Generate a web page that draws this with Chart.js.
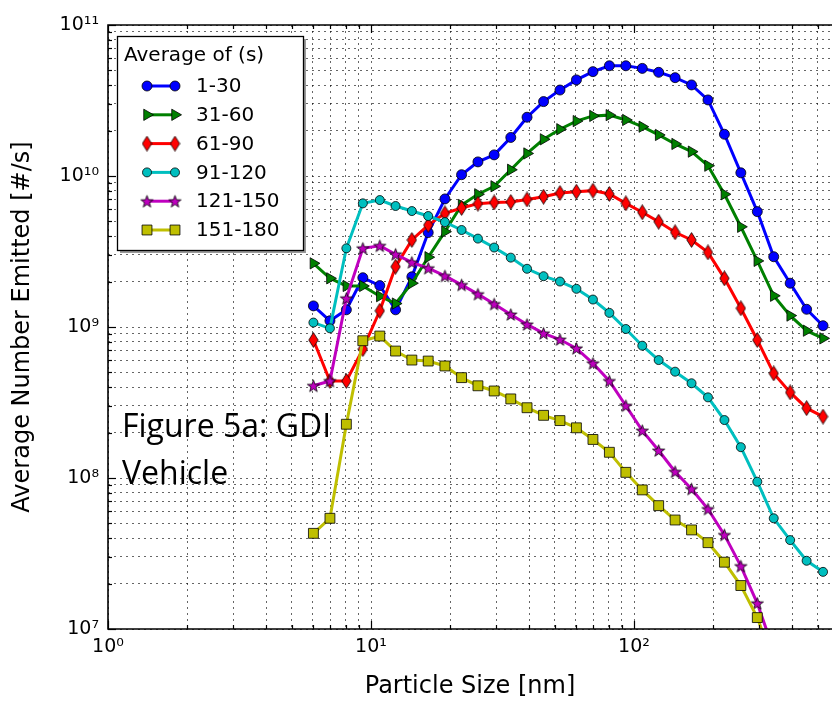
<!DOCTYPE html>
<html>
<head>
<meta charset="utf-8">
<script src="https://cdn.jsdelivr.net/npm/chart.js@4.4.1/dist/chart.umd.min.js"></script>
<style>
  html, body { margin: 0; padding: 0; background: #fff; }
</style>
</head>
<body>
<canvas id="sizeChart" width="832" height="704"></canvas>
<script>
// particle size channels [nm]
const sizes = [6.04, 6.98, 8.06, 9.31, 10.8, 12.4, 14.3, 16.5, 19.1, 22.1, 25.5, 29.4, 34.0, 39.2, 45.3, 52.3,
  60.4, 69.8, 80.6, 93.1, 107.5, 124.1, 143.3, 165.5, 191.1, 220.7, 254.8, 294.3, 339.8, 392.4, 453.2, 523.3];

const seriesLabels = ['1-30', '31-60', '61-90', '91-120', '121-150', '151-180'];

// average number emitted [#/s] per time window
const avg1to30 = [1.38e9, 1.10e9, 1.30e9, 2.12e9, 1.88e9, 1.30e9, 2.15e9, 4.22e9, 7.05e9, 1.02e10, 1.24e10, 1.38e10,
  1.80e10, 2.45e10, 3.11e10, 3.71e10, 4.33e10, 4.91e10, 5.37e10, 5.37e10, 5.16e10, 4.86e10, 4.48e10, 4.01e10,
  3.19e10, 1.89e10, 1.05e10, 5.81e9, 2.92e9, 1.95e9, 1.31e9, 1.02e9];
const avg31to60 = [2.64e9, 2.10e9, 1.87e9, 1.87e9, 1.60e9, 1.43e9, 1.95e9, 2.90e9, 4.28e9, 6.43e9, 7.57e9, 8.55e9,
  1.10e10, 1.41e10, 1.75e10, 2.04e10, 2.31e10, 2.50e10, 2.53e10, 2.35e10, 2.12e10, 1.87e10, 1.63e10, 1.45e10,
  1.17e10, 7.57e9, 4.61e9, 2.74e9, 1.61e9, 1.19e9, 9.45e8, 8.41e8];
const avg61to90 = [8.20e8, 4.39e8, 4.39e8, 7.14e8, 1.28e9, 2.51e9, 3.77e9, 4.73e9, 5.66e9, 6.14e9, 6.56e9, 6.68e9,
  6.73e9, 6.99e9, 7.29e9, 7.71e9, 7.87e9, 8.00e9, 7.60e9, 6.59e9, 5.75e9, 4.98e9, 4.24e9, 3.77e9,
  3.12e9, 2.10e9, 1.33e9, 8.20e8, 4.93e8, 3.69e8, 2.90e8, 2.55e8];
const avg91to120 = [1.07e9, 9.80e8, 3.32e9, 6.59e9, 6.93e9, 6.33e9, 5.86e9, 5.43e9, 4.95e9, 4.39e9, 3.85e9, 3.36e9,
  2.88e9, 2.43e9, 2.17e9, 2.00e9, 1.79e9, 1.52e9, 1.24e9, 9.70e8, 7.52e8, 6.04e8, 5.06e8, 4.24e8,
  3.42e8, 2.42e8, 1.60e8, 9.45e7, 5.41e7, 3.88e7, 2.83e7, 2.39e7];
const avg121to150 = [4.08e8, 4.39e8, 1.55e9, 3.32e9, 3.45e9, 3.03e9, 2.68e9, 2.45e9, 2.18e9, 1.90e9, 1.65e9, 1.42e9,
  1.21e9, 1.04e9, 9.08e8, 8.26e8, 7.22e8, 5.75e8, 4.39e8, 3.01e8, 2.06e8, 1.52e8, 1.10e8, 8.46e7,
  6.23e7, 4.20e7, 2.61e7, 1.48e7, 7.2e6, null, null, null];
const avg151to180 = [4.30e7, 5.41e7, 2.27e8, 8.11e8, 8.71e8, 6.93e8, 6.04e8, 5.95e8, 5.52e8, 4.62e8, 4.08e8, 3.77e8,
  3.34e8, 2.92e8, 2.60e8, 2.40e8, 2.15e8, 1.80e8, 1.48e8, 1.09e8, 8.34e7, 6.56e7, 5.27e7, 4.53e7,
  3.73e7, 2.77e7, 1.94e7, 1.19e7, 6.0e6, null, null, null];

// axis ticks (decades and the 1..9 steps inside them)
const xDecades = [1, 10, 100];
const yDecades = [1e7, 1e8, 1e9, 1e10];
const tickSteps = [1, 2, 3, 4, 5, 6, 7, 8, 9];
const xTickValues = [];
xDecades.forEach((d) => tickSteps.forEach((s) => xTickValues.push(s * d)));
const yTickValues = [];
yDecades.forEach((d) => tickSteps.forEach((s) => yTickValues.push(s * d)));
yTickValues.push(1e11);

const sup = { '0': '\u2070', '1': '\u00b9', '2': '\u00b2', '3': '\u00b3', '4': '\u2074', '5': '\u2075', '6': '\u2076', '7': '\u2077', '8': '\u2078', '9': '\u2079' };
function decadeExp(v) {
  const e = Math.round(Math.log10(v));
  return Math.abs(v / Math.pow(10, e) - 1) < 1e-6 ? e : null;
}
function powerLabel(v) {
  const e = decadeExp(v);
  if (e === null) return '';
  return '10' + String(e).split('').map((c) => sup[c]).join('');
}

// custom marker shapes (matplotlib thin diamond and filled star)
function markerCanvas(w, h, fill, pathFn) {
  const c = document.createElement('canvas');
  c.width = w;
  c.height = h;
  const g = c.getContext('2d');
  g.fillStyle = fill;
  g.strokeStyle = '#000';
  g.lineWidth = 0.8;
  g.beginPath();
  pathFn(g, w / 2, h / 2);
  g.closePath();
  g.fill();
  g.stroke();
  return c;
}
const thinDiamond = markerCanvas(11, 16, '#ff0000', (g, cx, cy) => {
  g.moveTo(cx, 0.6);
  g.lineTo(10.2, cy);
  g.lineTo(cx, 15.4);
  g.lineTo(0.8, cy);
});
const starMark = markerCanvas(15, 15, '#bf00bf', (g, cx, cy) => {
  for (let i = 0; i < 10; i++) {
    const r = i % 2 === 0 ? 6.4 : 2.6;
    const a = -Math.PI / 2 + i * Math.PI / 5;
    const px = cx + r * Math.cos(a);
    const py = cy + 0.6 + r * Math.sin(a);
    if (i === 0) g.moveTo(px, py); else g.lineTo(px, py);
  }
});

const colors = ['#0000ff', '#008000', '#ff0000', '#00bfbf', '#bf00bf', '#bfbf00'];
const styles = [
  { pointStyle: 'circle', radius: 5, rotation: 0 },
  { pointStyle: 'triangle', radius: 6.5, rotation: 90 },
  { pointStyle: thinDiamond, radius: 6, rotation: 0 },
  { pointStyle: 'circle', radius: 4.5, rotation: 0 },
  { pointStyle: starMark, radius: 6, rotation: 0 },
  { pointStyle: 'rect', radius: 7, rotation: 0 }
];
const allSeries = [avg1to30, avg31to60, avg61to90, avg91to120, avg121to150, avg151to180];

const datasets = allSeries.map((values, i) => ({
  label: seriesLabels[i],
  data: values.map((v, j) => ({ x: sizes[j], y: v })),
  borderColor: colors[i],
  backgroundColor: colors[i],
  borderWidth: 3,
  pointStyle: styles[i].pointStyle,
  pointRadius: styles[i].radius,
  pointRotation: styles[i].rotation,
  pointBackgroundColor: colors[i],
  pointBorderColor: '#000',
  pointBorderWidth: 0.8,
  tension: 0,
  spanGaps: false,
  order: 5 - i
}));

// frame, inward ticks, legend box and the figure note
const decorations = {
  id: 'decorations',
  afterDatasetsDraw(chart) {
    const { ctx, chartArea: a, scales } = chart;
    ctx.save();
    ctx.setLineDash([]);
    ctx.strokeStyle = '#000';
    ctx.lineWidth = 1.2;
    scales.x.ticks.forEach((t) => {
      const px = Math.round(scales.x.getPixelForValue(t.value)) + 0.5;
      const len = decadeExp(t.value) !== null ? 8 : 4;
      ctx.beginPath();
      ctx.moveTo(px, a.bottom); ctx.lineTo(px, a.bottom - len);
      ctx.moveTo(px, a.top); ctx.lineTo(px, a.top + len);
      ctx.stroke();
    });
    scales.y.ticks.forEach((t) => {
      const py = Math.round(scales.y.getPixelForValue(t.value)) + 0.5;
      const len = decadeExp(t.value) !== null ? 8 : 4;
      ctx.beginPath();
      ctx.moveTo(a.left, py); ctx.lineTo(a.left + len, py);
      ctx.stroke();
    });
    ctx.lineWidth = 1.6;
    ctx.beginPath();
    ctx.moveTo(a.right + 2, a.top);
    ctx.lineTo(a.left, a.top);
    ctx.lineTo(a.left, a.bottom);
    ctx.lineTo(a.right + 2, a.bottom);
    ctx.stroke();

    // legend
    const bx = 117, by = 36, bw = 186, bh = 214;
    ctx.fillStyle = '#9a9a9a';
    ctx.fillRect(bx + 3, by + 3, bw, bh);
    ctx.fillStyle = '#fff';
    ctx.fillRect(bx, by, bw, bh);
    ctx.strokeStyle = '#000';
    ctx.lineWidth = 1.3;
    ctx.strokeRect(bx + 0.5, by + 0.5, bw, bh);
    ctx.fillStyle = '#000';
    ctx.font = '20px "DejaVu Sans"';
    ctx.textBaseline = 'middle';
    ctx.textAlign = 'left';
    ctx.fillText('Average of (s)', 124, 56);
    chart.data.datasets.forEach((ds, i) => {
      const y = 86 + i * 28.8;
      ctx.strokeStyle = ds.borderColor;
      ctx.lineWidth = 3;
      ctx.beginPath();
      ctx.moveTo(147, y);
      ctx.lineTo(175, y);
      ctx.stroke();
      ctx.fillStyle = ds.borderColor;
      ctx.strokeStyle = '#000';
      ctx.lineWidth = 0.8;
      [147, 175].forEach((x) => {
        Chart.helpers.drawPoint(ctx, { pointStyle: styles[i].pointStyle, radius: styles[i].radius, rotation: styles[i].rotation, borderWidth: 0.8 }, x, y);
      });
      ctx.fillStyle = '#000';
      ctx.fillText(ds.label, 196, y + 1);
    });

    // figure note
    ctx.font = '32px "Open Sans"';
    ctx.textBaseline = 'alphabetic';
    ctx.fillStyle = '#000';
    ctx.fillText('Figure 5a: GDI', 122, 437);
    ctx.fillText('Vehicle', 122, 484);
    ctx.restore();
  }
};

const ctxSize = document.getElementById('sizeChart').getContext('2d');
new Chart(ctxSize, {
  type: 'line',
  data: { datasets: datasets },
  options: {
    responsive: false,
    devicePixelRatio: 1,
    animation: false,
    events: [],
    layout: { autoPadding: false, padding: { top: 25, right: 0, left: 0, bottom: 0 } },
    plugins: {
      legend: { display: false },
      tooltip: { enabled: false }
    },
    scales: {
      x: {
        type: 'logarithmic',
        min: 1,
        max: 566,
        afterBuildTicks: (scale) => { scale.ticks = xTickValues.filter((v) => v <= 566).map((v) => ({ value: v })); },
        afterFit: (scale) => { scale.height = 75; },
        ticks: {
          autoSkip: false,
          maxRotation: 0,
          minRotation: 0,
          padding: 7,
          color: '#000',
          font: { family: 'DejaVu Sans', size: 19 },
          callback: (value) => powerLabel(value)
        },
        grid: { color: 'rgba(0,0,0,0.6)', lineWidth: 1, drawTicks: false },
        border: { display: false, dash: [2, 4] },
        title: {
          display: true,
          text: 'Particle Size [nm]',
          color: '#000',
          font: { family: 'DejaVu Sans', size: 24 },
          padding: { top: 0, bottom: 3 }
        }
      },
      y: {
        type: 'logarithmic',
        min: 1e7,
        max: 1e11,
        afterBuildTicks: (scale) => { scale.ticks = yTickValues.map((v) => ({ value: v })); },
        afterFit: (scale) => { scale.width = 108; },
        ticks: {
          autoSkip: false,
          padding: 9,
          color: '#000',
          font: { family: 'DejaVu Sans', size: 19 },
          callback: (value) => powerLabel(value)
        },
        grid: { color: 'rgba(0,0,0,0.6)', lineWidth: 1, drawTicks: false },
        border: { display: false, dash: [2, 4] },
        title: {
          display: true,
          text: 'Average Number Emitted [#/s]',
          color: '#000',
          font: { family: 'DejaVu Sans', size: 24 },
          padding: { top: 8, bottom: 0 }
        }
      }
    }
  },
  plugins: [decorations]
});
</script>
</body>
</html>
